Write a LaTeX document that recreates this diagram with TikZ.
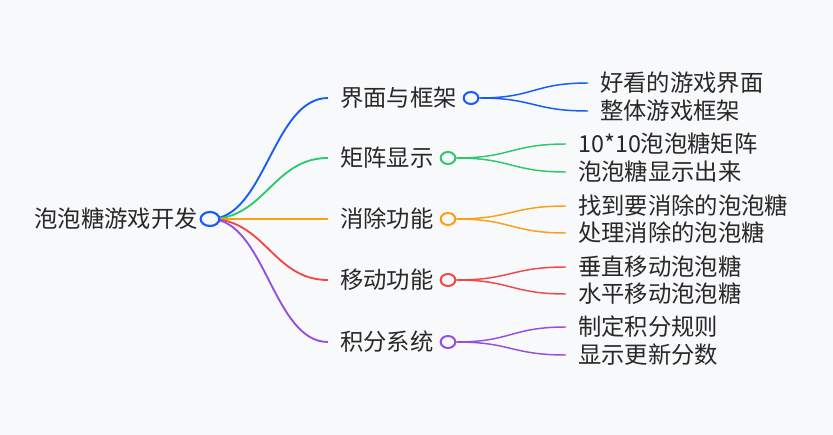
\documentclass[tikz,border=0pt]{standalone}
\usepackage{fontspec}
\newfontfamily\cjk{Noto Sans CJK SC}
\usepackage{tikz}
\usetikzlibrary{shapes.geometric}
\definecolor{bgc}{RGB}{248,249,251}
\definecolor{txtc}{RGB}{40,40,40}
\definecolor{mmblue}{RGB}{24,90,250}
\definecolor{mmgreen}{RGB}{46,200,110}
\definecolor{mmorange}{RGB}{250,160,20}
\definecolor{mmred}{RGB}{244,72,72}
\definecolor{mmpurple}{RGB}{150,80,225}
\tikzset{
  lbl/.style    = {font=\cjk\fontsize{17.5pt}{20pt}\selectfont,text=txtc,inner ysep=0pt},
  toptxt/.style = {lbl,inner xsep=0pt,anchor=east},
  subtxt/.style = {lbl,inner xsep=9pt,anchor=west},
  knob/.style   = {draw,ellipse,line width=1.5pt,fill=bgc,inner sep=0pt,
                   minimum width=11pt,minimum height=9pt},
  rootknob/.style = {knob,line width=1.6pt,minimum width=14pt,minimum height=10.5pt},
  branch/.style = {line width=1.4pt},
  twig/.style   = {line width=1.1pt}
}
\begin{document}
\begin{tikzpicture}[x=0.75pt,y=-0.75pt]
  \fill[bgc] (0,0) rectangle (833,435);
  \useasboundingbox (0,0) rectangle (833,435);
  % root
  \node[toptxt] (roottxt) at (198,219) {泡泡糖游戏开发};
  % first level
  \node[subtxt] (ui)    at (328,98)  {界面与框架};
  \node[subtxt] (grid)  at (328,158) {矩阵显示};
  \node[subtxt] (clear) at (328,219) {消除功能};
  \node[subtxt] (move)  at (328,280) {移动功能};
  \node[subtxt] (score) at (328,342) {积分系统};
  % second level
  \node[subtxt] (ui1)    at (588,83)  {好看的游戏界面};
  \node[subtxt] (ui2)    at (588,111) {整体游戏框架};
  \node[subtxt] (grid1)  at (566,144) {10*10泡泡糖矩阵};
  \node[subtxt] (grid2)  at (566,172) {泡泡糖显示出来};
  \node[subtxt] (clear1) at (566,206) {找到要消除的泡泡糖};
  \node[subtxt] (clear2) at (566,233) {处理消除的泡泡糖};
  \node[subtxt] (move1)  at (566,267) {垂直移动泡泡糖};
  \node[subtxt] (move2)  at (566,294) {水平移动泡泡糖};
  \node[subtxt] (score1) at (566,327) {制定积分规则};
  \node[subtxt] (score2) at (566,355) {显示更新分数};
  % branches from root
  \draw[branch,mmblue]   (210,219) .. controls +(55,0) and +(-55,0) .. (ui.west);
  \draw[branch,mmgreen]  (210,219) .. controls +(55,0) and +(-55,0) .. (grid.west);
  \draw[branch,mmorange] (210,219) -- (clear.west);
  \draw[branch,mmred]    (210,219) .. controls +(55,0) and +(-55,0) .. (move.west);
  \draw[branch,mmpurple] (210,219) .. controls +(55,0) and +(-55,0) .. (score.west);
  \node[rootknob,draw=mmblue] (root) at (210,219) {};
  % twigs
  \node[knob,draw=mmblue]   (kui)    at (471,98)  {};
  \node[knob,draw=mmgreen]  (kgrid)  at (448,158) {};
  \node[knob,draw=mmorange] (kclear) at (448,219) {};
  \node[knob,draw=mmred]    (kmove)  at (448,280) {};
  \node[knob,draw=mmpurple] (kscore) at (448,342) {};
  \foreach \k/\c/\a/\b in {kui/mmblue/ui1/ui2,kgrid/mmgreen/grid1/grid2,
      kclear/mmorange/clear1/clear2,kmove/mmred/move1/move2,
      kscore/mmpurple/score1/score2}{
    \draw[twig,\c] (\k.east) .. controls +(55,0) and +(-55,0) .. (\a.west);
    \draw[twig,\c] (\k.east) .. controls +(55,0) and +(-55,0) .. (\b.west);
  }
\end{tikzpicture}
\end{document}
